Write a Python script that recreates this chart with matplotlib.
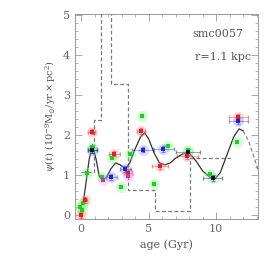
import matplotlib
matplotlib.use("Agg")
import matplotlib.pyplot as plt
from matplotlib.ticker import MultipleLocator

# step histogram (dashed)
histEdges = [0.0, 0.96, 1.45, 2.2, 3.45, 5.5, 8.1, 11.0]
histValues = [1.08, 2.37, 5.6, 3.27, 0.63, 0.1, 1.42]

# smooth curve (solid part, then dashed tail)
curveAge = [0.15, 0.4, 0.6, 0.85, 1.1, 1.35, 1.6, 1.9, 2.2, 2.55, 2.9, 3.3, 3.6, 4.0, 4.4,
            4.7, 5.0, 5.4, 5.8, 6.2, 6.6, 7.0, 7.5, 8.0, 8.5, 9.0, 9.5, 9.9, 10.3, 10.8,
            11.3, 11.7, 12.0]
curveSfr = [0.3, 0.9, 1.4, 1.75, 1.4, 0.95, 0.88, 0.95, 1.15, 1.3, 1.25, 1.15, 1.3, 1.65, 1.95,
            2.05, 1.9, 1.55, 1.3, 1.25, 1.3, 1.42, 1.52, 1.55, 1.35, 1.1, 0.95, 0.9, 1.05, 1.5,
            1.95, 2.15, 2.1]
tailAge = [12.0, 12.4, 12.8, 13.2]
tailSfr = [2.1, 1.85, 1.45, 1.0]

redAge = [0.0, 0.3, 0.79, 2.47, 3.5, 4.42, 5.85, 7.87, 11.65]
redSfr = [0.0, 0.37, 2.08, 1.53, 1.04, 2.09, 1.21, 1.47, 2.45]
redAgeErr = [0.1, 0.15, 0.25, 0.4, 0.3, 0.3, 0.6, 0.8, 0.7]

blueAge = [0.84, 2.22, 3.26, 4.57, 6.1, 11.65]
blueSfr = [1.62, 0.94, 1.14, 1.63, 1.65, 2.35]
blueAgeErr = [0.3, 0.4, 0.4, 0.8, 0.8, 0.7]

greenAge = [-0.05, 0.05, 0.12, 0.42, 0.84, 1.53, 2.27, 2.96, 3.63, 4.54, 5.38, 6.45, 7.95, 9.56, 11.58]
greenSfr = [0.21, 0.13, 0.31, 1.05, 1.7, 0.95, 1.42, 0.71, 1.53, 2.47, 0.78, 1.73, 1.62, 1.02, 1.83]

blackAge = [0.84, 7.9, 9.75]
blackSfr = [1.62, 1.57, 0.93]
blackAgeErr = [0.3, 0.9, 0.7]

magentaAge = [1.6, 3.5]
magentaSfr = [0.875, 0.98]

plt.rcParams["font.family"] = "DejaVu Serif"
plt.rcParams["mathtext.fontset"] = "dejavuserif"

fig = plt.figure(figsize=(2.73, 2.73), dpi=100)
ax = fig.add_axes([0.275, 0.198, 0.67, 0.751])

textColor = "#555555"

# histogram
stepX = []
stepY = []
for i, v in enumerate(histValues):
    stepX += [histEdges[i], histEdges[i + 1]]
    stepY += [v, v]
ax.plot(stepX, stepY, color="#777777", lw=0.9, ls=(0, (3, 2)))

# curve
ax.plot(curveAge, curveSfr, color="#333333", lw=0.9)
ax.plot(tailAge, tailSfr, color="#888888", lw=0.9, ls=(0, (3, 2)), clip_on=True)


def drawPoints(xs, ys, color, halo, xerr=None, size=3.5):
    ax.scatter(xs, ys, s=65, color=halo, alpha=0.3, lw=0, zorder=3)
    if xerr is not None:
        ax.errorbar(xs, ys, xerr=xerr, yerr=0.07, fmt="none", ecolor=color,
                    elinewidth=0.6, alpha=0.45, capsize=1.5, zorder=3)
    ax.plot(xs, ys, "s", color=color, ms=size, mew=0, zorder=4)


drawPoints(greenAge, greenSfr, "#22cc22", "#66ff66")
drawPoints(redAge, redSfr, "#dd2222", "#ff8888", redAgeErr)
drawPoints(blueAge, blueSfr, "#2222cc", "#8888ff", blueAgeErr)
drawPoints(magentaAge, magentaSfr, "#aa44aa", "#ff88ff")
drawPoints(blackAge, blackSfr, "#111111", "#66dddd", blackAgeErr)

ax.set_xlim(-0.45, 13.1)
ax.set_ylim(-0.1, 5.02)
ax.xaxis.set_major_locator(MultipleLocator(5))
ax.xaxis.set_minor_locator(MultipleLocator(1))
ax.yaxis.set_major_locator(MultipleLocator(1))
ax.yaxis.set_minor_locator(MultipleLocator(0.2))
ax.tick_params(which="both", direction="in", top=True, right=True,
               colors="#999999", labelcolor="#666666", labelsize=8)
ax.tick_params(which="major", length=5, width=0.6)
ax.tick_params(which="minor", length=2.5, width=0.5)
for s in ax.spines.values():
    s.set_color("#999999")
    s.set_linewidth(0.7)

ax.set_xlabel("age (Gyr)", fontsize=8, color=textColor)
ax.set_ylabel(r"$\psi(t)\ (10^{-9}{\rm M}_{\odot}/{\rm yr}\times{\rm pc}^{2})$",
              fontsize=7, color=textColor)

ax.text(0.92, 0.9, "smc0057", transform=ax.transAxes, ha="right", va="center",
        fontsize=8, color=textColor)
ax.text(0.96, 0.79, "r=1.1 kpc", transform=ax.transAxes, ha="right", va="center",
        fontsize=8, color=textColor)

fig.savefig("out.png", dpi=100)
